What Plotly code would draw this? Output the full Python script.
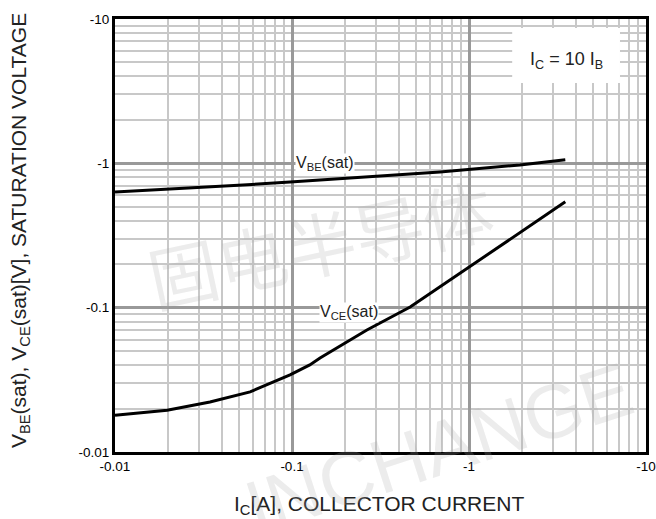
import plotly.graph_objects as go

# Data
ic_vbe = [0.01, 0.0224, 0.0528, 0.0975, 0.213, 0.686, 1.94, 3.5]
vbe_sat = [0.634, 0.665, 0.708, 0.743, 0.792, 0.872, 0.975, 1.057]

ic_vce = [0.01, 0.0152, 0.0197, 0.0344, 0.058, 0.0975, 0.126, 0.144, 0.265,
          0.465, 0.782, 1.01, 1.64, 3.5]
vce_sat = [0.0180, 0.0189, 0.0195, 0.0222, 0.0261, 0.0342, 0.0401, 0.0448,
           0.070, 0.101, 0.156, 0.191, 0.290, 0.541]

decades = [0.01, 0.1, 1, 10]
tick_text = ["-0.01", "-0.1", "-1", "-10"]
minor_vals = [k * d for d in [0.01, 0.1, 1] for k in range(2, 10)]

fig = go.Figure()
fig.add_trace(go.Scatter(x=ic_vbe, y=vbe_sat, mode="lines",
                         line=dict(color="black", width=3), showlegend=False))
fig.add_trace(go.Scatter(x=ic_vce, y=vce_sat, mode="lines",
                         line=dict(color="black", width=3), showlegend=False))

axis_common = dict(
    type="log",
    tickvals=decades,
    ticktext=tick_text,
    showgrid=True,
    gridcolor="#999999",
    gridwidth=2.5,
    showline=True,
    linecolor="black",
    linewidth=3,
    mirror=True,
    ticks="",
    zeroline=False,
    automargin=False,
    tickfont=dict(family="Liberation Sans, Arial", size=13.5, color="black"),
    minor=dict(tickvals=minor_vals, showgrid=True, gridcolor="#c8c8c8", gridwidth=1.5),
)

fig.update_layout(
    width=656, height=519,
    margin=dict(l=115, r=10, t=19, b=67),
    paper_bgcolor="white",
    plot_bgcolor="white",
    font=dict(family="Liberation Sans, Arial", color="black"),
    xaxis=dict(range=[-2, 1], **axis_common),
    yaxis=dict(range=[-2, 1], **axis_common),
)


def px(xp, yp):
    return (xp - 115) / 531, (452 - yp) / 433


# White box for condition label
fig.add_shape(type="rect", xref="paper", yref="paper",
              x0=0.748, x1=0.951, y0=0.852, y1=0.979,
              fillcolor="white", line=dict(width=0), layer="above")
bx, by = px(566, 61)
fig.add_annotation(xref="paper", yref="paper", x=bx, y=by, xanchor="center", yanchor="middle",
                   text="I<sub>C</sub> = 10 I<sub>B</sub>", showarrow=False,
                   font=dict(size=18, color="#222"))

# Curve labels
fig.add_annotation(x=-0.815, y=0.0, xref="x", yref="y", xanchor="center", yanchor="middle",
                   text="V<sub>BE</sub>(sat)", showarrow=False,
                   bgcolor="white", font=dict(size=16, color="#222"), borderpad=0)
fig.add_annotation(x=-0.68, y=-1.03, xref="x", yref="y", xanchor="center", yanchor="middle",
                   text="V<sub>CE</sub>(sat)", showarrow=False,
                   bgcolor="white", font=dict(size=16, color="#222"), borderpad=0)

# Axis titles
tx, ty = px(379, 505)
fig.add_annotation(xref="paper", yref="paper", x=tx, y=ty, xanchor="center", yanchor="middle",
                   text="I<sub>C</sub>[A], COLLECTOR CURRENT", showarrow=False,
                   font=dict(size=21, color="#222"))
yx, yy = px(20, 231)
fig.add_annotation(xref="paper", yref="paper", x=yx, y=yy, xanchor="center", yanchor="middle",
                   text="V<sub>BE</sub>(sat), V<sub>CE</sub>(sat)[V], SATURATION VOLTAGE",
                   showarrow=False, textangle=-90,
                   font=dict(size=21, color="#222"))

# Watermarks
wx, wy = px(320, 242)
fig.add_annotation(xref="paper", yref="paper", x=wx, y=wy, xanchor="center", yanchor="middle",
                   text="固电半导体", showarrow=False, textangle=-12,
                   font=dict(family="Noto Sans CJK SC", size=70, color="rgba(170,170,170,0.22)"))
vx, vy = px(438, 448)
fig.add_annotation(xref="paper", yref="paper", x=vx, y=vy, xanchor="center", yanchor="middle",
                   text="INCHANGE", showarrow=False, textangle=-18,
                   font=dict(family="Liberation Sans, Arial", size=76, color="rgba(170,170,170,0.22)"))

fig.write_html("out.html", config={"displayModeBar": False},
               post_script="document.body.style.margin='0px';")
